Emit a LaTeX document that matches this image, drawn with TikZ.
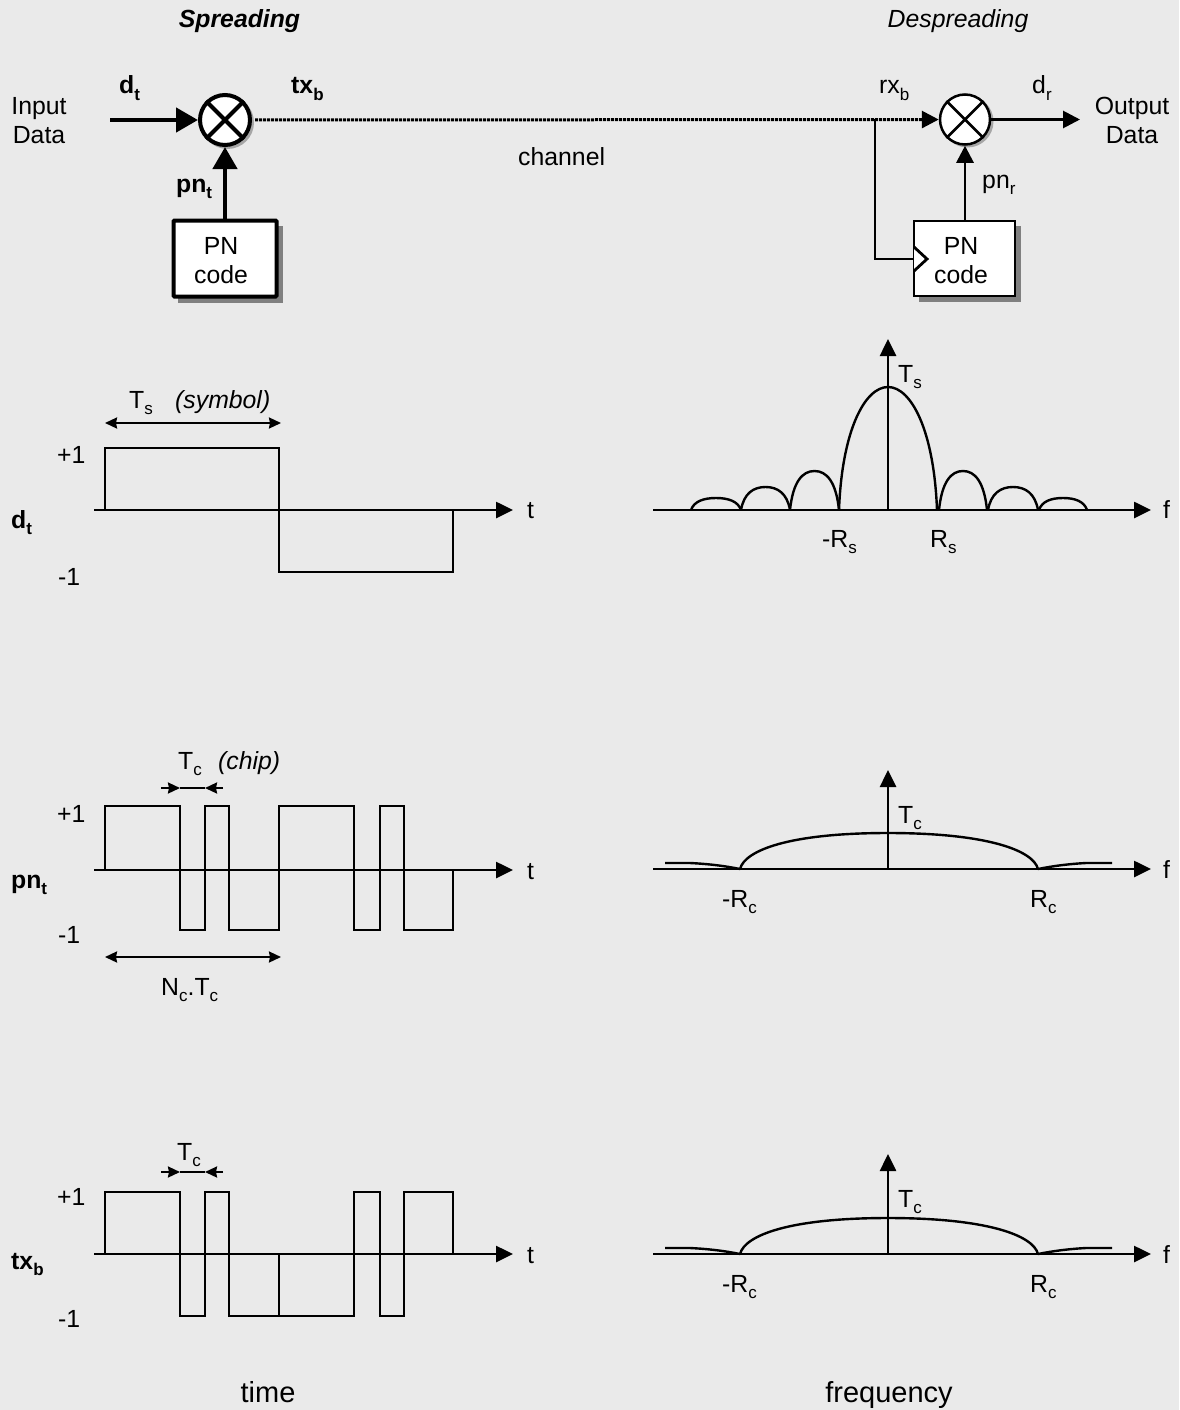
\documentclass[tikz,border=0pt]{standalone}
\usepackage{fontspec}
\setmainfont{Liberation Sans}
\usetikzlibrary{arrows.meta}
\definecolor{bgc}{HTML}{EAEAEA}
\newcommand{\sbs}[1]{\raisebox{-6.5pt}{\fontsize{17}{17}\selectfont #1}}
\newcommand{\lobe}[4]{(#1,#4) .. controls ({#1+0.06*(#2-#1)},{#4-0.72*(#4-#3)}) and ({#1+0.25*(#2-#1)},#3) .. ({0.5*(#1+#2)},#3) .. controls ({#1+0.75*(#2-#1)},#3) and ({#1+0.94*(#2-#1)},{#4-0.72*(#4-#3)}) .. (#2,#4)}
\tikzset{
  lbl/.style={inner sep=0pt,anchor=base west,font=\fontsize{24.8}{28.5}\selectfont},
  lblc/.style={inner sep=0pt,anchor=base,align=center,font=\fontsize{24.8}{28.5}\selectfont},
  bigl/.style={inner sep=0pt,anchor=base,font=\fontsize{29}{33}\selectfont},
  mixthick/.style={circle,draw,fill=white,minimum size=50pt,inner sep=0pt,line width=4pt},
  mixthin/.style={circle,draw,fill=white,minimum size=50pt,inner sep=0pt,line width=2.5pt},
  boxthick/.style={draw,fill=white,line width=4pt,rounded corners=1pt,minimum width=103pt,minimum height=76pt,inner sep=0pt},
  boxthin/.style={draw,fill=white,line width=2.5pt,minimum width=101pt,minimum height=75pt,inner sep=0pt},
  shadowc/.style={fill=black!35},
  shadowb/.style={fill=black!50},
  heavy/.style={line width=4.5pt,-{Triangle[length=22pt,width=24pt]}},
  light/.style={line width=2.8pt,-{Triangle[length=17pt,width=17pt]}},
  fine/.style={line width=2.8pt},
  axisline/.style={line width=2.6pt,-{Triangle[length=17pt,width=16pt]}},
  wave/.style={line width=2.5pt,line join=miter},
  spec/.style={line width=2.4pt,line join=round},
  dimline/.style={line width=2.2pt,{Stealth[length=12pt,width=11pt,inset=1pt]}-{Stealth[length=12pt,width=11pt,inset=1pt]}},
  dimin/.style={line width=2.2pt,-{Stealth[length=12pt,width=11pt,inset=1pt]}}
}
\begin{document}
\begin{tikzpicture}[x=1pt,y=-1pt]
\fill[fill=bgc] (0,0) rectangle (1179,1410);
\useasboundingbox (0,0) rectangle (1179,1410);
% headings
\node[lblc,font=\fontsize{24.8}{28.5}\selectfont\bfseries\itshape] (spr) at (239.5,28) {Spreading};
\node[lblc,font=\fontsize{24.8}{28.5}\selectfont\itshape] (desp) at (958,28) {Despreading};
% shadows
\fill[shadowc] (227.5,122.5) circle (26.5);
\fill[shadowc] (967.5,121.5) circle (26);
\fill[shadowb] (178,226) rectangle (283,303);
\fill[shadowb] (919,226) rectangle (1021,302);
% blocks
\node[mixthick] (m1) at (225,120) {};
\draw[line width=4pt] (m1.45) -- (m1.225) (m1.135) -- (m1.315);
\node[mixthin] (m2) at (965,119.5) {};
\draw[line width=2.5pt] (m2.45) -- (m2.225) (m2.135) -- (m2.315);
\node[boxthick] (b1) at (225,258.5) {};
\node[boxthin] (b2) at (964.5,258.5) {};
\node[lblc] (b1a) at (221,254) {PN};
\node[lblc] (b1b) at (221,283) {code};
\node[lblc] (b2a) at (961,254) {PN};
\node[lblc] (b2b) at (961,283) {code};
% coordinates
\coordinate (inp) at (110,120);
\coordinate (outp) at (1080,119.5);
\coordinate (junc) at (875,119.5);
\coordinate (clk) at (914,259);
\coordinate (b2t) at (965,221);
% connectors
\draw[heavy] (inp) -- (m1);
\draw[heavy] (b1) -- (m1);
\draw[light,dash pattern=on 3pt off 1pt,line width=3pt,shorten <=3pt] (m1) -- (m2);
\draw[light] (m2) -- (outp);
\draw[light] (b2t) -- (m2);
\draw[fine,line join=miter] (junc) |- (clk);
\draw[fine,fill=white,line join=miter] (914,247) -- (927,259) -- (914,271);
% top labels
\node[lblc] (inl) at (39,143.5) {Input\\Data};
\node[lblc] (outl) at (1132,143.5) {Output\\Data};
\node[lbl,font=\fontsize{24.8}{28.5}\selectfont\bfseries] (ldt) at (119,94) {d\sbs{t}};
\node[lbl,font=\fontsize{24.8}{28.5}\selectfont\bfseries] (ltx) at (291,94) {tx\sbs{b}};
\node[lbl,font=\fontsize{24.8}{28.5}\selectfont\bfseries] (lpn) at (176,192) {pn\sbs{t}};
\node[lbl] (lrx) at (879,94) {rx\sbs{b}};
\node[lbl] (ldr) at (1032,94) {d\sbs{r}};
\node[lbl] (lpr) at (982,188) {pn\sbs{r}};
\node[lbl] (chan) at (518,165) {channel};
% ---- row 1, time
\coordinate (a1s) at (94,510); \coordinate (a1e) at (513,510);
\draw[axisline] (a1s) -- (a1e);
\draw[wave] (105,510) |- (279,448) |- (453,572) -- (453,510);
\draw[dimline] (105,423) -- (281,423);
\node[lbl] (ts) at (129,408) {T\sbs{s}};
\node[lbl,font=\fontsize{24.8}{28.5}\selectfont\itshape] (sym) at (175,408) {(symbol)};
\node[lbl] (p1a) at (57,463) {+1};
\node[lbl] (m1a) at (58,585) {-1};
\node[lbl,font=\fontsize{24.8}{28.5}\selectfont\bfseries] (dtl) at (11,528) {d\sbs{t}};
\node[lbl] (t1) at (527,518) {t};
% ---- row 2, time
\coordinate (a2s) at (94,870); \coordinate (a2e) at (513,870);
\draw[axisline] (a2s) -- (a2e);
\draw[wave] (105,870) |- (180,806) |- (205,930) |- (229,806) |- (279,930) |- (354,806) |- (380,930) |- (404,806) |- (453,930) -- (453,870);
\coordinate (ca) at (161,788); \coordinate (cb) at (223,788);
\coordinate (cc) at (180,788); \coordinate (cd) at (205,788);
\draw[line width=2.2pt] (cc) -- (cd);
\draw[dimin] (ca) -- (cc);
\draw[dimin] (cb) -- (cd);
\draw[dimline] (105,957) -- (281,957);
\node[lbl] (tc) at (178,769) {T\sbs{c}};
\node[lbl,font=\fontsize{24.8}{28.5}\selectfont\itshape] (chip) at (218,769) {(chip)};
\node[lbl] (p2a) at (57,822) {+1};
\node[lbl] (m2a) at (58,943) {-1};
\node[lbl,font=\fontsize{24.8}{28.5}\selectfont\bfseries] (pnl) at (11,888) {pn\sbs{t}};
\node[lbl] (t2) at (527,879) {t};
\node[lbl] (nc) at (161,995) {N\sbs{c}.T\sbs{c}};
% ---- row 3, time
\coordinate (a3s) at (94,1254); \coordinate (a3e) at (513,1254);
\draw[axisline] (a3s) -- (a3e);
\draw[wave] (105,1254) |- (180,1192) |- (205,1316) |- (229,1192) |- (354,1316) |- (380,1192) |- (404,1316) |- (453,1192) -- (453,1254);
\draw[wave] (279,1254) -- (279,1316);
\coordinate (da) at (161,1172); \coordinate (db) at (223,1172);
\coordinate (dc) at (180,1172); \coordinate (dd) at (205,1172);
\draw[line width=2.2pt] (dc) -- (dd);
\draw[dimin] (da) -- (dc);
\draw[dimin] (db) -- (dd);
\node[lbl] (tc3) at (177,1160) {T\sbs{c}};
\node[lbl] (p3a) at (57,1205) {+1};
\node[lbl] (m3a) at (58,1327) {-1};
\node[lbl,font=\fontsize{24.8}{28.5}\selectfont\bfseries] (txl) at (11,1269) {tx\sbs{b}};
\node[lbl] (t3) at (527,1263) {t};
% ---- row 1, frequency
\coordinate (f1s) at (653,510); \coordinate (f1e) at (1151,510);
\coordinate (v1s) at (888,510); \coordinate (v1e) at (888,339);
\draw[axisline] (f1s) -- (f1e);
\draw[axisline] (v1s) -- (v1e);
\draw[spec] (839,510) .. controls (842,430) and (865,387) .. (888,387) .. controls (911,387) and (934,430) .. (937,510);
\draw[spec] \lobe{790}{839}{471}{510};
\draw[spec] \lobe{741}{790}{487}{510};
\draw[spec] \lobe{691}{741}{498}{510};
\draw[spec] \lobe{939}{987}{471}{510};
\draw[spec] \lobe{988}{1038}{487}{510};
\draw[spec] \lobe{1039}{1087}{498}{510};
\node[lbl] (fts) at (898,382) {T\sbs{s}};
\node[lbl] (frs) at (822,547) {-R\sbs{s}};
\node[lbl] (frs2) at (930,547) {R\sbs{s}};
\node[lbl] (f1) at (1163,518) {f};
% ---- row 2, frequency
\coordinate (f2s) at (653,869); \coordinate (f2e) at (1151,869);
\coordinate (v2s) at (888,869); \coordinate (v2e) at (888,770);
\draw[axisline] (f2s) -- (f2e);
\draw[axisline] (v2s) -- (v2e);
\draw[spec] (665,863) -- (690,863) .. controls (710,864) and (725,866) .. (740,869) .. controls (745,850) and (790,833) .. (888,833) .. controls (986,833) and (1033,850) .. (1038,869) .. controls (1053,866) and (1068,864) .. (1086,863) -- (1112,863);
\node[lbl] (ftc) at (898,823) {T\sbs{c}};
\node[lbl] (frc) at (722,907) {-R\sbs{c}};
\node[lbl] (frc2) at (1030,907) {R\sbs{c}};
\node[lbl] (f2) at (1163,878) {f};
% ---- row 3, frequency
\coordinate (f3s) at (653,1254); \coordinate (f3e) at (1151,1254);
\coordinate (v3s) at (888,1254); \coordinate (v3e) at (888,1154);
\draw[axisline] (f3s) -- (f3e);
\draw[axisline] (v3s) -- (v3e);
\draw[spec] (665,1248) -- (690,1248) .. controls (710,1249) and (725,1251) .. (740,1254) .. controls (745,1235) and (790,1218) .. (888,1218) .. controls (986,1218) and (1033,1235) .. (1038,1254) .. controls (1053,1251) and (1068,1249) .. (1086,1248) -- (1112,1248);
\node[lbl] (ftc3) at (898,1207) {T\sbs{c}};
\node[lbl] (frc3) at (722,1292) {-R\sbs{c}};
\node[lbl] (frc4) at (1030,1292) {R\sbs{c}};
\node[lbl] (f3) at (1163,1263) {f};
% bottom
\node[bigl] (time) at (268,1402) {time};
\node[bigl] (freq) at (889,1402) {frequency};
\end{tikzpicture}
\end{document}
